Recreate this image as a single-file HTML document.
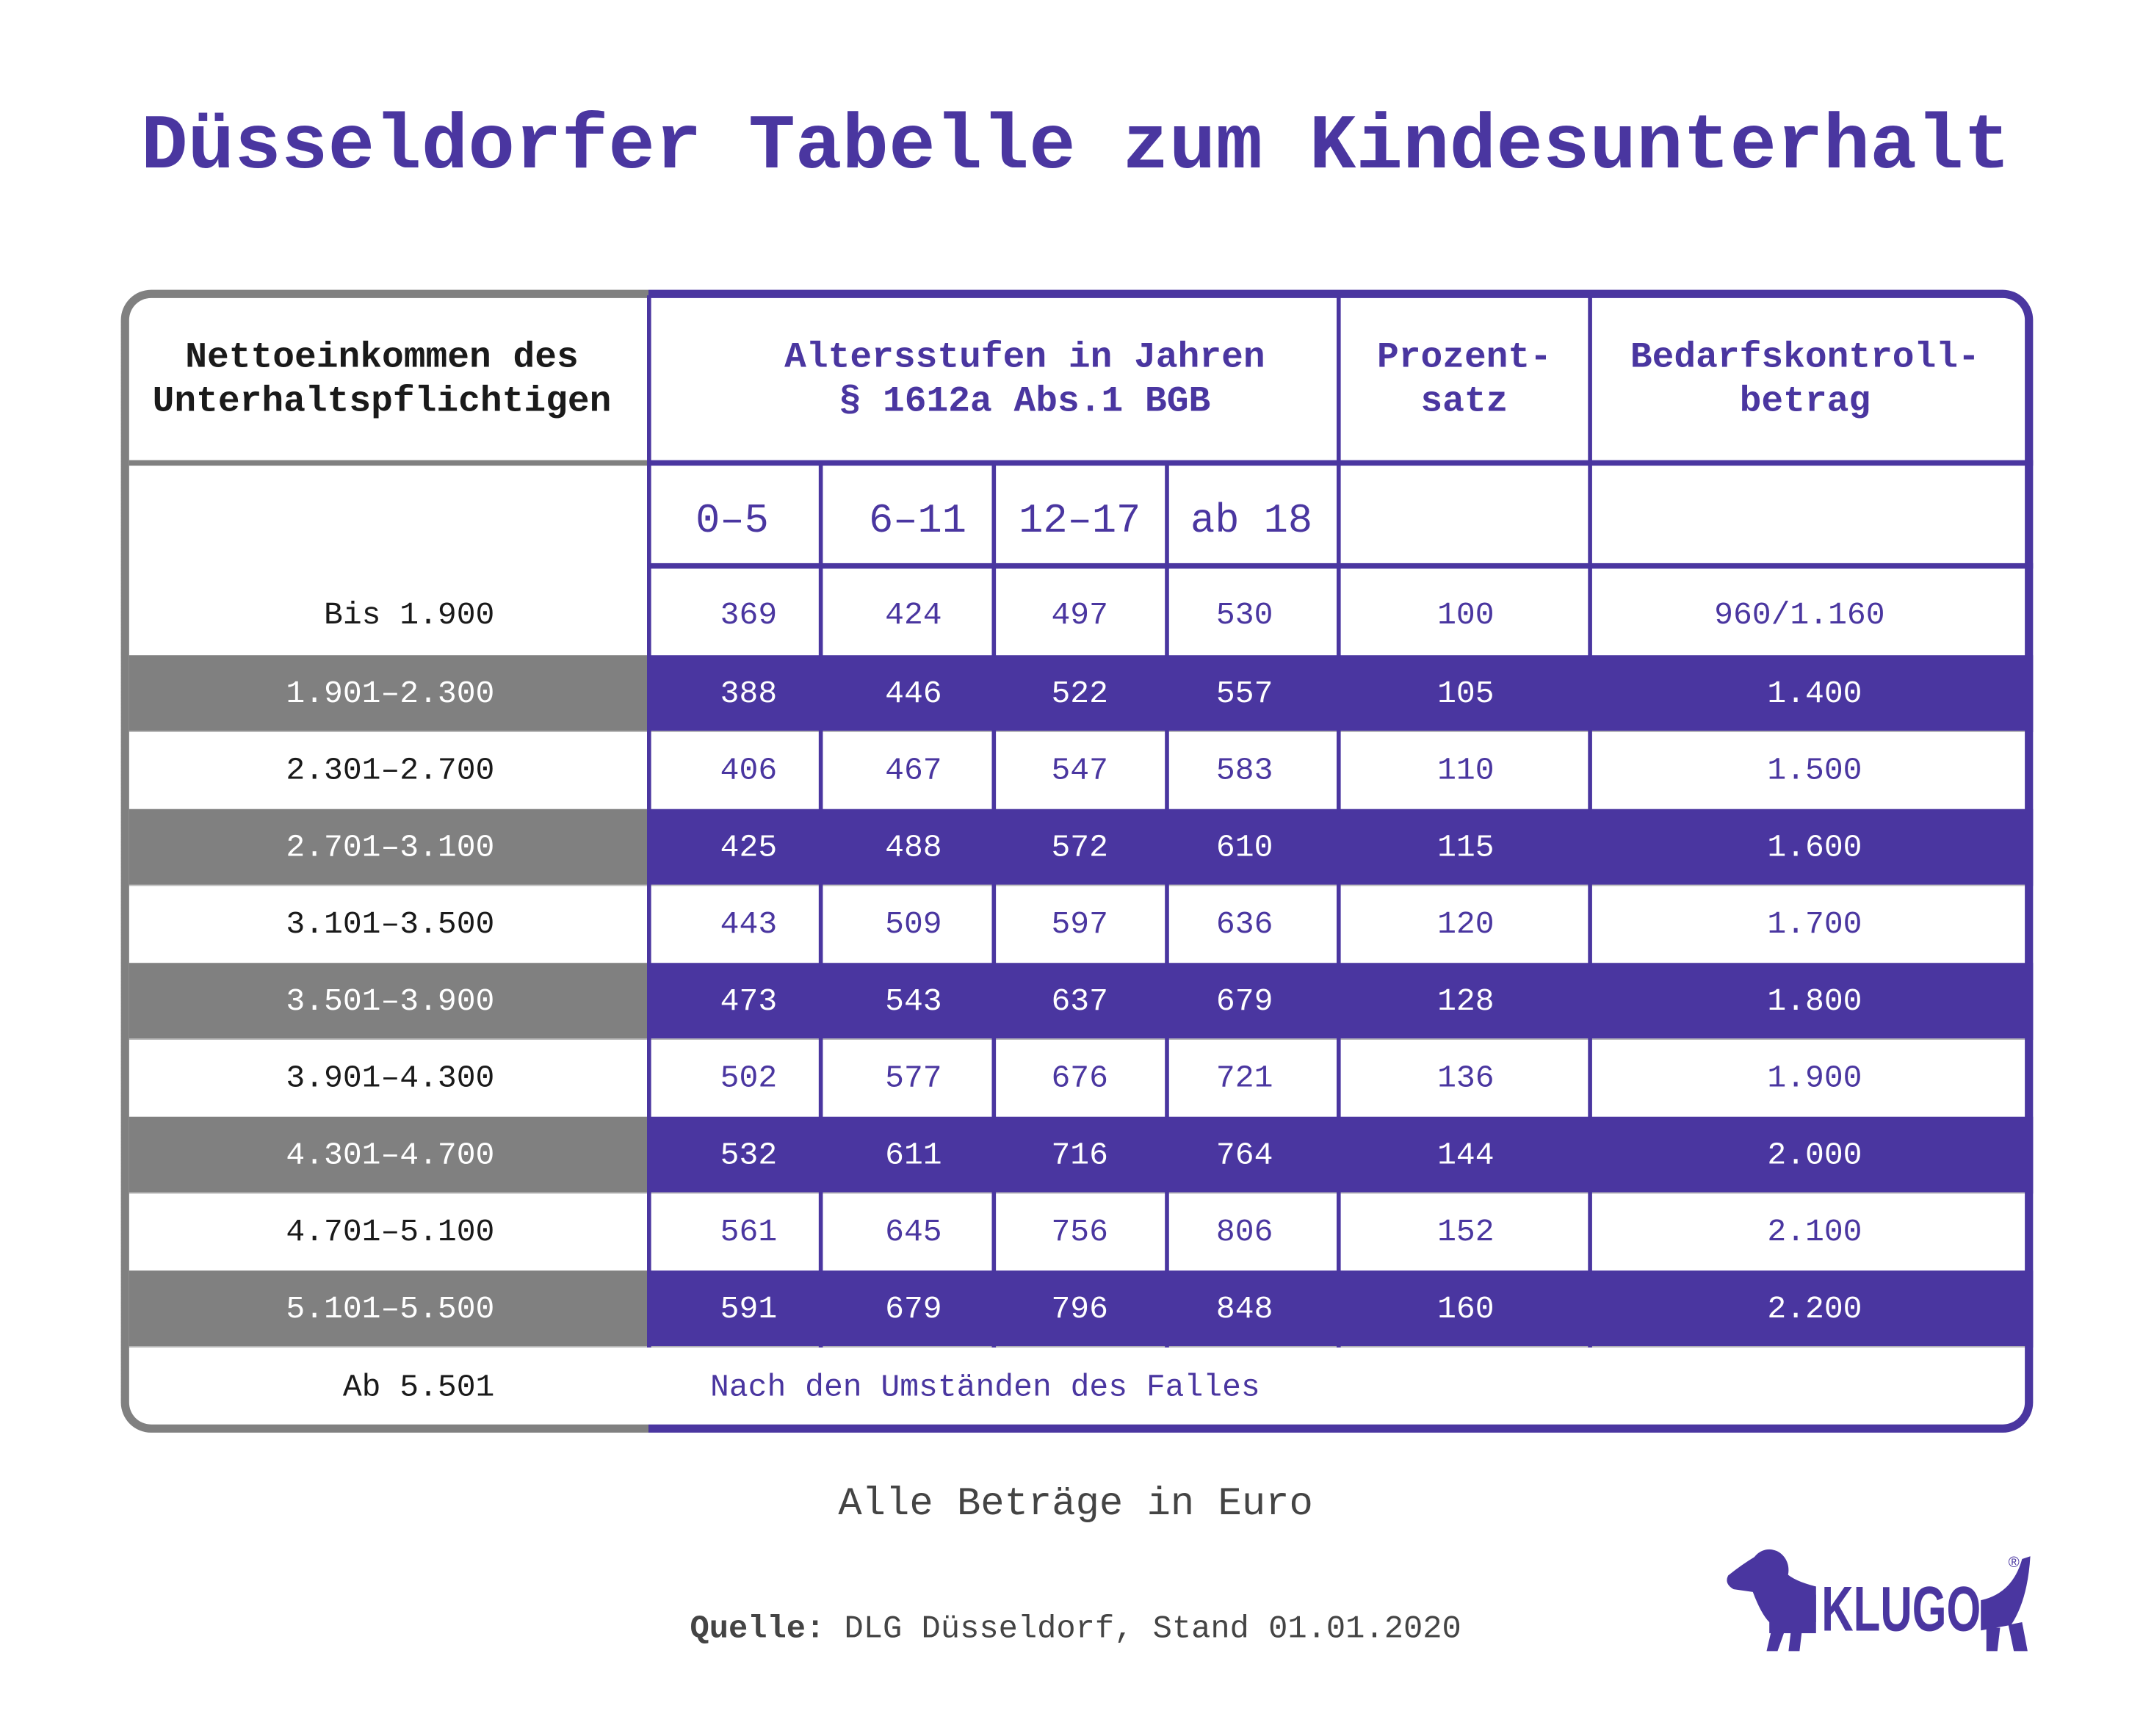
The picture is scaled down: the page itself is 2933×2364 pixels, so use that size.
<!DOCTYPE html>
<html><head><meta charset="utf-8"><style>
html,body{margin:0;padding:0;background:#fff;}
body{width:2933px;height:2364px;overflow:hidden;position:relative;}
#s{position:absolute;left:0;top:0;width:1568px;height:1264px;transform:scale(1.8705);transform-origin:0 0;font-family:"Liberation Mono",monospace;}
.a{position:absolute;}
.t{position:absolute;white-space:nowrap;transform:translate(-50%,-50%);}
.p{color:#4a36a0;}
.w{color:#fff;}
.k{color:#1a1a1a;}
.d{font-size:23px;}
.h{font-size:26.5px;font-weight:bold;line-height:32px;text-align:center;}
.vl{position:absolute;width:2.5px;background:#4a36a0;}
</style></head><body><div id="s">
<div class="t p" style="left:783px;top:108px;font-size:56.7px;font-weight:bold;">Düsseldorfer Tabelle zum Kindesunterhalt</div>

<div class="a" style="left:88px;top:211px;width:1392px;height:832px;border-radius:22px;overflow:hidden;background:linear-gradient(to right,#808080 0,#808080 384px,#4a36a0 384px);"></div>
<div class="a" style="left:94px;top:217px;width:1380px;height:820px;border-radius:16px;background:#fff;"></div>

<div class="a" style="left:94px;top:477px;width:377px;height:56px;background:#808080"></div><div class="a" style="left:471px;top:477px;width:1009px;height:56px;background:#4a36a0"></div>
<div class="a" style="left:94px;top:589px;width:377px;height:56px;background:#808080"></div><div class="a" style="left:471px;top:589px;width:1009px;height:56px;background:#4a36a0"></div>
<div class="a" style="left:94px;top:701px;width:377px;height:56px;background:#808080"></div><div class="a" style="left:471px;top:701px;width:1009px;height:56px;background:#4a36a0"></div>
<div class="a" style="left:94px;top:813px;width:377px;height:56px;background:#808080"></div><div class="a" style="left:471px;top:813px;width:1009px;height:56px;background:#4a36a0"></div>
<div class="a" style="left:94px;top:925px;width:377px;height:56px;background:#808080"></div><div class="a" style="left:471px;top:925px;width:1009px;height:56px;background:#4a36a0"></div>

<div class="a" style="left:94px;top:335px;width:378px;height:4px;background:#808080"></div>
<div class="a" style="left:471px;top:335px;width:1009px;height:4px;background:#4a36a0"></div>
<div class="a" style="left:471px;top:410px;width:1009px;height:4px;background:#4a36a0"></div>
<div class="a" style="left:94px;top:532px;width:1380px;height:1px;background:#bbb"></div>
<div class="a" style="left:94px;top:644px;width:1380px;height:1px;background:#bbb"></div>
<div class="a" style="left:94px;top:756px;width:1380px;height:1px;background:#bbb"></div>
<div class="a" style="left:94px;top:868px;width:1380px;height:1px;background:#bbb"></div>
<div class="a" style="left:94px;top:980px;width:1380px;height:1px;background:#bbb"></div>

<div class="vl" style="left:470.5px;top:215px;height:766px;width:3px"></div>
<div class="vl" style="left:596px;top:337px;height:644px"></div>
<div class="vl" style="left:722px;top:337px;height:644px"></div>
<div class="vl" style="left:848px;top:337px;height:644px"></div>
<div class="vl" style="left:973px;top:215px;height:766px"></div>
<div class="vl" style="left:1156px;top:215px;height:766px"></div>

<div class="t h k" style="left:278px;top:276px;">Nettoeinkommen des<br>Unterhaltspflichtigen</div>
<div class="t h p" style="left:746px;top:276px;">Altersstufen in Jahren<br>§ 1612a Abs.1 BGB</div>
<div class="t h p" style="left:1066px;top:276px;">Prozent-<br>satz</div>
<div class="t h p" style="left:1314px;top:276px;">Bedarfskontroll-<br>betrag</div>

<div class="t p" style="left:533px;top:379px;font-size:29.6px;">0–5</div>
<div class="t p" style="left:668px;top:379px;font-size:29.6px;">6–11</div>
<div class="t p" style="left:786px;top:379px;font-size:29.6px;">12–17</div>
<div class="t p" style="left:911px;top:379px;font-size:29.6px;">ab 18</div>

<div id="rows"></div>
<div class="a d k" style="right:1208px;top:1010px;transform:translateY(-50%);white-space:nowrap;">Ab 5.501</div>
<div class="a d p" style="left:517px;top:1010px;transform:translateY(-50%);white-space:nowrap;">Nach den Umständen des Falles</div>

<div class="t" style="left:783px;top:1095px;font-size:28.8px;color:#444;">Alle Beträge in Euro</div>
<div class="t" style="left:783px;top:1187px;font-size:23.4px;color:#444;"><b>Quelle:</b> DLG Düsseldorf, Stand 01.01.2020</div>

<svg class="a" style="left:1250px;top:1125px" width="240" height="85" viewBox="0 0 240 85">
<g fill="#4a36a0">
<ellipse cx="38" cy="18" rx="14" ry="15"/>
<path d="M28 8 Q18 14 8 22 Q5 28 12 32 L26 34 Q32 50 38 56 L72 56 L72 30 Q56 26 50 20 Z"/>
<rect x="38" y="36" width="34" height="28"/>
<path d="M40 60 L36 77 L44 77 L50 60Z"/><path d="M54 60 L52 77 L60 77 L62 60Z"/>
<path d="M192 40 Q215 35 222 10 L228 8 Q226 40 214 58 L192 62Z"/>
<path d="M196 60 L196 77 L204 77 L206 60Z"/><path d="M212 58 L216 77 L226 77 L222 56Z"/>
</g>
<text x="76" y="62" font-family="Liberation Sans Narrow, Liberation Sans, sans-serif" font-weight="bold" font-size="46" fill="#4a36a0" textLength="116" lengthAdjust="spacingAndGlyphs">KLUGO</text>
<text x="212" y="16" font-family="Liberation Sans, sans-serif" font-size="11" fill="#4a36a0">®</text>
</svg>
</div>
<script>
var data=[["Bis 1.900","369","424","497","530","100","960/1.160"],
["1.901–2.300","388","446","522","557","105","1.400"],
["2.301–2.700","406","467","547","583","110","1.500"],
["2.701–3.100","425","488","572","610","115","1.600"],
["3.101–3.500","443","509","597","636","120","1.700"],
["3.501–3.900","473","543","637","679","128","1.800"],
["3.901–4.300","502","577","676","721","136","1.900"],
["4.301–4.700","532","611","716","764","144","2.000"],
["4.701–5.100","561","645","756","806","152","2.100"],
["5.101–5.500","591","679","796","848","160","2.200"]];
var cx=[545,665,786,906,1067,1321],h="";
data.forEach(function(r,i){var y=i==0?448:505+(i-1)*56;var f=i%2==1;
h+='<div class="a d '+(f?'w':'k')+'" style="right:1208px;top:'+y+'px;transform:translateY(-50%);white-space:nowrap">'+r[0]+'</div>';
for(var j=1;j<7;j++){var x=cx[j-1];if(i==0&&j==6)x=1310;h+='<div class="t d '+(f?'w':'p')+'" style="left:'+x+'px;top:'+y+'px">'+r[j]+'</div>';}});
document.getElementById('rows').innerHTML=h;
</script>
</body></html>
